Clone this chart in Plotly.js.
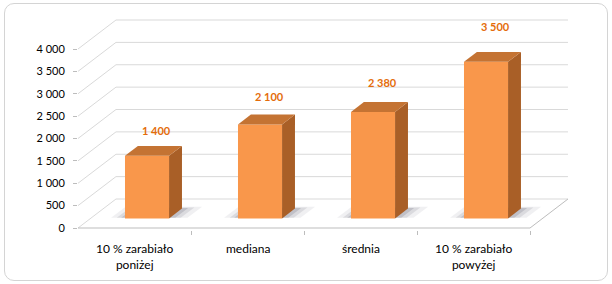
<!DOCTYPE html>
<html>
<head>
<meta charset="utf-8">
<script src="https://cdn.plot.ly/plotly-3.0.1.min.js"></script>
<style>
  html, body { margin: 0; padding: 0; background: #fff; }
  #wrap { position: relative; width: 612px; height: 284px; }
  #chart { width: 612px; height: 284px; }
  #frame { position: absolute; left: 4px; top: 3px; width: 602px; height: 276px;
           border: 1px solid #d4d4d4; border-radius: 10px; pointer-events: none; }
</style>
</head>
<body>
<div id="wrap"><div id="chart"></div><div id="frame"></div></div>
<script>
// ---- data ----
const categories = ['10 % zarabiało<br>poniżej', 'mediana', 'średnia', '10 % zarabiało<br>powyżej'];
const values = [1400, 2100, 2380, 3500];
const yTickVals = [0, 500, 1000, 1500, 2000, 2500, 3000, 3500, 4000];

// ---- pseudo-3D projection settings (styling) ----
const PX_PER_UNIT_Y = 0.04475;     // pixels per value unit
const DX = 0.336;                  // back-wall x offset (category units)
const DY = 648;                    // back-wall y offset (value units)
const Z1 = 0.33, Z2 = 0.67;        // bar depth (front / back)
const W = 0.39;                    // bar width
const N = categories.length;
const xL = -0.5, xR = N - 0.5;

const FRONT = '#F9974B', TOP = '#C47333', SIDE = '#A95F27';
const GRID = '#d9d9d9', FLOOR = '#bdbdbd';

function fmt(v) { return String(v).replace(/\B(?=(\d{3})+(?!\d))/g, ' '); }

const shapes = [];
function seg(x0, y0, x1, y1, color) {
  shapes.push({ type: 'line', xref: 'x', yref: 'y', x0: x0, y0: y0, x1: x1, y1: y1,
    layer: 'below', line: { color: color, width: 1 } });
}
// wall gridlines: diagonal on side wall + horizontal on back wall
yTickVals.forEach(t => {
  seg(xL, t, xL + DX, t + DY, GRID);
  seg(xL + DX, t + DY, xR + DX, t + DY, GRID);
});
// floor front edge + right edge
seg(xL, 0, xR, 0, FLOOR);
seg(xR, 0, xR + DX, DY, FLOOR);

// soft shadows on the floor (below bars)
[0.13, 0.08, 0.04].forEach((e, k) => {
  values.forEach((v, i) => {
    const a = i - W / 2 - e, b = i + W / 2 + e * 1.2;
    const za = Z1 + 0.02, zb = Z2 + e * 0.5;
    const p = [[a + za * DX, za * DY], [b + za * DX, za * DY], [b + zb * DX, zb * DY], [a + zb * DX, zb * DY]];
    shapes.push({ type: 'path', xref: 'x', yref: 'y', layer: 'below',
      path: 'M' + p.map(q => q[0] + ',' + q[1]).join('L') + 'Z',
      fillcolor: 'rgba(110,110,125,' + (0.10 + 0.07 * k) + ')', line: { width: 0 } });
  });
});

const traces = [];
// front faces (real bars)
traces.push({
  type: 'bar', x: values.map((v, i) => i + Z1 * DX), y: values,
  base: values.map(() => Z1 * DY), width: W,
  marker: { color: FRONT, line: { width: 0 } }, hoverinfo: 'skip', showlegend: false
});
// side faces
values.forEach((v, i) => {
  const r = i + W / 2;
  traces.push({
    x: [r + Z1 * DX, r + Z2 * DX, r + Z2 * DX, r + Z1 * DX, r + Z1 * DX],
    y: [Z1 * DY, Z2 * DY, v + Z2 * DY, v + Z1 * DY, Z1 * DY],
    type: 'scatter', mode: 'lines', fill: 'toself', hoverinfo: 'skip',
    line: { width: 0 }, fillcolor: SIDE, showlegend: false
  });
});
// top faces
values.forEach((v, i) => {
  const l = i - W / 2, r = i + W / 2;
  traces.push({
    x: [l + Z1 * DX, r + Z1 * DX, r + Z2 * DX, l + Z2 * DX, l + Z1 * DX],
    y: [v + Z1 * DY, v + Z1 * DY, v + Z2 * DY, v + Z2 * DY, v + Z1 * DY],
    type: 'scatter', mode: 'lines', fill: 'toself', hoverinfo: 'skip',
    line: { width: 0 }, fillcolor: TOP, showlegend: false
  });
});

// plot area geometry
const T = 14, B = 230, Y0 = 228, LEFT = 78, RIGHT = 578;
const yMin = -(B - Y0) / PX_PER_UNIT_Y, yMax = (Y0 - T) / PX_PER_UNIT_Y;
const xMax = xL + (RIGHT - LEFT) / 113;

const annotations = [];
categories.forEach((c, i) => annotations.push({
  x: i, y: 0, xref: 'x', yref: 'y', yanchor: 'top', xanchor: 'center',
  yshift: -11, showarrow: false, text: c, align: 'center',
  font: { family: 'Lato, sans-serif', size: 12, color: '#000' }
}));
values.forEach((v, i) => annotations.push({
  x: i + DX * (Z1 + Z2) / 2, y: v + Z2 * DY, xref: 'x', yref: 'y',
  yanchor: 'middle', xanchor: 'center', xshift: 3,
  yshift: 15 + (v - values[0]) * 0.0048, showarrow: false, text: fmt(v),
  font: { family: 'Lato, sans-serif', size: 11, color: '#E46C0A', weight: 'bold' }
}));

const layout = {
  width: 612, height: 284,
  margin: { l: LEFT, r: 612 - RIGHT, t: T, b: 284 - B, pad: 0 },
  paper_bgcolor: '#fff', plot_bgcolor: '#fff',
  showlegend: false, barmode: 'overlay',
  separators: ', ',
  xaxis: {
    range: [xL, xMax], showgrid: false, zeroline: false, showline: false,
    tickvals: [0.5, 1.5, 2.5, 3.5], ticktext: ['', '', '', ''],
    ticks: 'outside', ticklen: 4, tickcolor: FLOOR, fixedrange: true
  },
  yaxis: {
    range: [yMin, yMax], showgrid: false, zeroline: false, showline: false,
    tickvals: yTickVals, tickformat: ',d', ticks: 'outside', ticklen: 4, tickcolor: FLOOR,
    ticklabelstandoff: 6,
    tickfont: { family: 'Lato, sans-serif', size: 11, color: '#000' }, fixedrange: true
  },
  shapes: shapes,
  annotations: annotations
};

Plotly.newPlot('chart', traces, layout, { displayModeBar: false, staticPlot: true });
</script>
</body>
</html>
